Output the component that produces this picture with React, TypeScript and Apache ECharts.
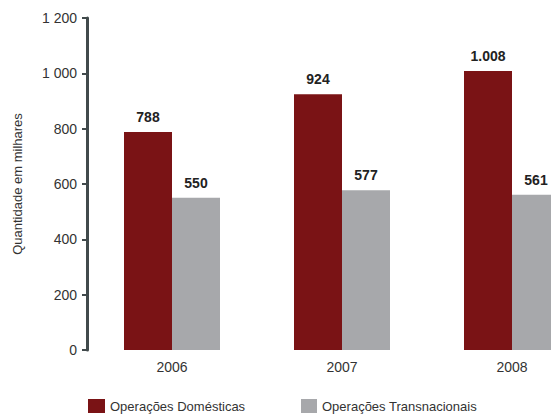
import React, { useEffect, useRef } from "react";
import * as echarts from "echarts";

const categories = ["2006", "2007", "2008"];
const domesticas = [788, 924, 1008];
const transnacionais = [550, 577, 561];
const seriesNames = ["Operações Domésticas", "Operações Transnacionais"];

const fmt = (v: number) => {
  if (v >= 1000) {
    const s = String(v);
    return s.slice(0, s.length - 3) + "." + s.slice(-3);
  }
  return String(v);
};
const fmtAxis = (v: number) => {
  if (v >= 1000) {
    const s = String(v);
    return s.slice(0, s.length - 3) + " " + s.slice(-3);
  }
  return String(v);
};

export default function App() {
  const ref = useRef<HTMLDivElement>(null);
  useEffect(() => {
    if (!ref.current) return;
    const chart = echarts.init(ref.current, undefined, { renderer: "svg" });
    const font = "Liberation Sans, Arial, sans-serif";
    chart.setOption({
      animation: false,
      textStyle: { fontFamily: font },
      grid: {
        left: 87,
        width: 510,
        top: 18,
        bottom: 64,
        containLabel: false,
        outerBoundsMode: "none",
      },
      legend: [
        {
          data: [seriesNames[0]],
          left: 88,
          top: 399,
          itemWidth: 17,
          itemHeight: 14,
          itemGap: 6,
          padding: 0,
          icon: "rect",
          textStyle: { fontSize: 13, color: "#333", fontFamily: font },
        },
        {
          data: [seriesNames[1]],
          left: 301,
          top: 399,
          itemWidth: 16,
          itemHeight: 14,
          itemGap: 7,
          padding: 0,
          icon: "rect",
          textStyle: { fontSize: 13, color: "#333", fontFamily: font },
        },
      ],
      xAxis: {
        type: "category",
        data: categories,
        axisLine: { show: false },
        axisTick: { show: false },
        axisLabel: { fontSize: 14, color: "#333", margin: 10, fontFamily: font },
      },
      yAxis: {
        type: "value",
        min: 0,
        max: 1200,
        interval: 200,
        name: "Quantidade em milhares",
        nameLocation: "middle",
        nameRotate: 90,
        nameGap: 63,
        nameTextStyle: { fontSize: 13, color: "#333", fontFamily: font },
        splitLine: { show: false },
        axisLine: { show: true, lineStyle: { color: "#414a4c", width: 3 } },
        axisTick: { show: true, length: 5, lineStyle: { color: "#414a4c", width: 2 } },
        axisLabel: {
          fontSize: 14,
          color: "#333",
          margin: 10,
          fontFamily: font,
          formatter: (v: number) => fmtAxis(v),
        },
      },
      series: [
        {
          name: seriesNames[0],
          type: "bar",
          data: domesticas,
          barWidth: 48,
          barGap: "0%",
          itemStyle: { color: "#7a1315" },
          label: {
            show: true,
            position: "top",
            distance: 8,
            fontSize: 14,
            fontWeight: "bold",
            color: "#222",
            fontFamily: font,
            formatter: (p: any) => fmt(p.value),
          },
        },
        {
          name: seriesNames[1],
          type: "bar",
          data: transnacionais,
          barWidth: 48,
          barGap: "0%",
          itemStyle: { color: "#a7a8ab" },
          label: {
            show: true,
            position: "top",
            distance: 8,
            fontSize: 14,
            fontWeight: "bold",
            color: "#222",
            fontFamily: font,
            formatter: (p: any) => fmt(p.value),
          },
        },
      ],
    });
    return () => chart.dispose();
  }, []);
  return <div ref={ref} style={{ width: 551, height: 414, position: "absolute", left: 0, top: 0 }} />;
}
